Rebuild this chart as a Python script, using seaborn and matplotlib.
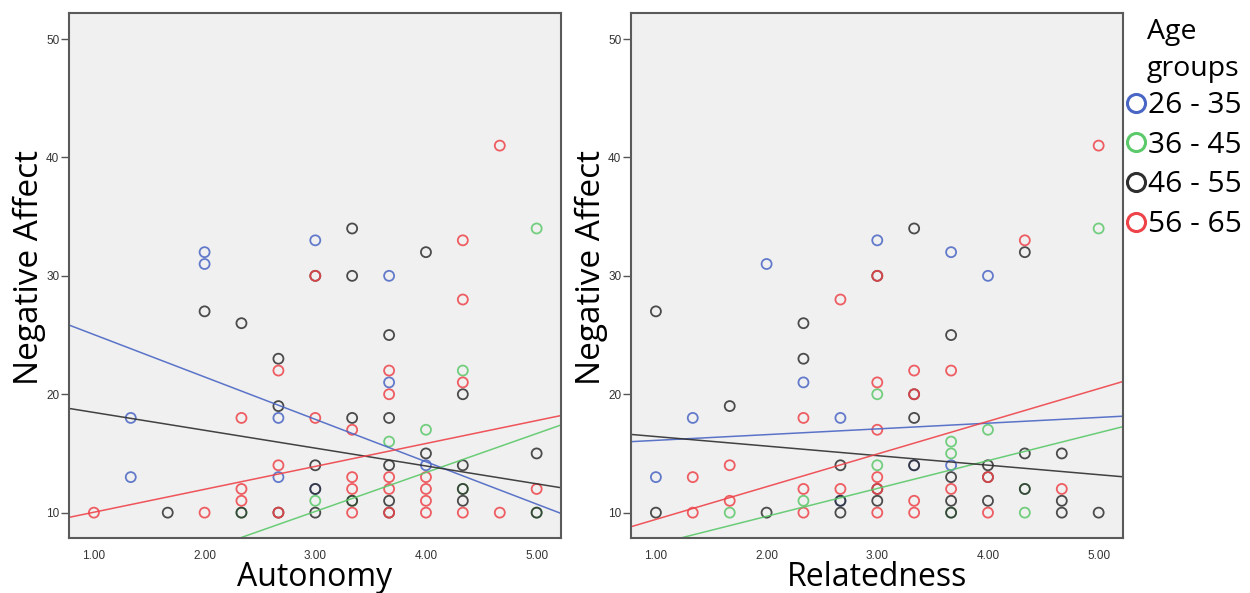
import matplotlib
matplotlib.use("Agg")
import matplotlib.pyplot as plt
from matplotlib.lines import Line2D
import numpy as np
import pandas as pd
import seaborn as sns

groups = ["26 - 35", "36 - 45", "46 - 55", "56 - 65"]
group_colors = ["#4a66c4", "#5cc96a", "#2e2e2e", "#ee4349"]

# Autonomy panel: (score, negative affect) per age group
auto_blue = [(1.333, 18), (1.333, 13), (2, 32), (2, 31), (2.667, 18), (2.667, 13),
             (3, 33), (3, 12), (3.667, 30), (3.667, 21), (4, 14)]
auto_green = [(2.333, 10), (3, 11), (3.333, 11), (3.667, 16), (4, 17), (4.333, 22),
              (4.333, 12), (5, 34), (5, 10)]
auto_black = [(1.667, 10), (2, 27), (2.333, 26), (2.333, 10), (2.667, 23), (2.667, 19),
              (2.667, 10), (3, 30), (3, 14), (3, 12), (3, 10), (3.333, 34), (3.333, 30),
              (3.333, 18), (3.333, 11), (3.667, 25), (3.667, 18), (3.667, 14), (3.667, 11),
              (3.667, 10), (4, 32), (4, 15), (4.333, 20), (4.333, 14), (4.333, 12),
              (4.333, 11), (5, 15), (5, 10)]
auto_red = [(1, 10), (2, 10), (2.333, 18), (2.333, 12), (2.333, 11), (2.667, 22),
            (2.667, 14), (2.667, 10), (3, 30), (3, 18), (3.333, 17), (3.333, 13),
            (3.333, 12), (3.333, 10), (3.667, 22), (3.667, 20), (3.667, 13), (3.667, 12),
            (3.667, 10), (4, 13), (4, 12), (4, 11), (4, 10), (4.333, 33), (4.333, 28),
            (4.333, 21), (4.333, 10), (4.667, 41), (4.667, 10), (5, 12)]

# Relatedness panel
rel_blue = [(1, 13), (1.333, 18), (2, 31), (2.333, 21), (2.667, 18), (2.667, 11),
            (3, 33), (3.333, 14), (3.667, 32), (3.667, 14), (4, 30)]
rel_green = [(1.667, 10), (2.333, 11), (3, 20), (3, 14), (3.667, 16), (3.667, 15),
             (3.667, 10), (4, 17), (4.333, 12), (4.333, 10), (5, 34)]
rel_black = [(1, 27), (1, 10), (1.667, 19), (2, 10), (2.333, 26), (2.333, 23),
             (2.667, 14), (2.667, 11), (2.667, 10), (3, 30), (3, 12), (3, 11),
             (3.333, 34), (3.333, 20), (3.333, 18), (3.333, 14), (3.667, 25), (3.667, 13),
             (3.667, 11), (3.667, 10), (4, 14), (4, 13), (4, 11), (4.333, 32), (4.333, 15),
             (4.333, 12), (4.667, 15), (4.667, 11), (4.667, 10), (5, 10)]
rel_red = [(1.333, 13), (1.333, 10), (1.667, 14), (1.667, 11), (2.333, 18), (2.333, 12),
           (2.333, 10), (2.667, 28), (2.667, 12), (3, 30), (3, 21), (3, 17), (3, 13),
           (3, 12), (3, 10), (3.333, 22), (3.333, 20), (3.333, 11), (3.333, 10),
           (3.667, 22), (3.667, 12), (4, 13), (4, 10), (4.333, 33), (4.667, 12), (5, 41)]

# fit lines (intercept at x=0, slope), one per age group
auto_intercepts = [28.62, 0.23, 19.97, 8.10]
auto_slopes = [-3.58, 3.29, -1.507, 1.935]
rel_intercepts = [15.62, 4.98, 17.23, 6.67]
rel_slopes = [0.484, 2.353, -0.805, 2.76]

x_ticks = [1, 2, 3, 4, 5]
x_ticklabels = ["1.00", "2.00", "3.00", "4.00", "5.00"]
y_ticks = [10, 20, 30, 40, 50]


def to_frame(per_group):
    rows = []
    for g, pts in zip(groups, per_group):
        for x, y in pts:
            rows.append({"x": x, "y": y, "group": g})
    return pd.DataFrame(rows)


auto_df = to_frame([auto_blue, auto_green, auto_black, auto_red])
rel_df = to_frame([rel_blue, rel_green, rel_black, rel_red])

sns.set_theme(style="white")
plt.rcParams["font.family"] = ["Open Sans", "DejaVu Sans"]
plt.rcParams["text.color"] = "black"

fig = plt.figure(figsize=(12.5, 5.93), dpi=100)
ax1 = fig.add_axes([69 / 1250, 1 - 537.5 / 593, 492 / 1250, 524.5 / 593])
ax2 = fig.add_axes([631 / 1250, 1 - 537.5 / 593, 492 / 1250, 524.5 / 593])

palette = dict(zip(groups, group_colors))

panels = [(ax1, auto_df, auto_intercepts, auto_slopes, "Autonomy"),
          (ax2, rel_df, rel_intercepts, rel_slopes, "Relatedness")]

for ax, df, icpts, slopes, xlabel in panels:
    ax.set_facecolor("#f0f0f0")
    sns.scatterplot(data=df, x="x", y="y", hue="group", palette=palette,
                    s=52, linewidth=1.3, legend=False, ax=ax)
    coll = ax.collections[-1]
    fc = coll.get_facecolors()
    fc[:, 3] = 0.85
    coll.set_edgecolors(fc)
    coll.set_facecolors("none")
    for b, m, c in zip(icpts, slopes, group_colors):
        ax.axline((0, b), slope=m, color=c, lw=1.1, alpha=0.9)
    ax.set_xlim(0.775, 5.22)
    ax.set_ylim(7.9, 52.2)
    ax.set_xticks(x_ticks)
    ax.set_xticklabels(x_ticklabels, family="Liberation Sans")
    ax.set_yticks(y_ticks)
    ax.set_yticklabels([str(v) for v in y_ticks], family="Liberation Sans")
    ax.tick_params(axis="x", length=0, pad=9, labelsize=8.5, labelcolor="#333333")
    ax.tick_params(axis="y", left=True, length=6, width=1, color="#555555", pad=1,
                   labelsize=8.5, labelcolor="#333333")
    for sp in ax.spines.values():
        sp.set_color("#5a5a5a")
        sp.set_linewidth(1.5)
    ax.set_xlabel(xlabel, fontsize=23, labelpad=-1, color="black")
    ax.set_ylabel("Negative Affect", fontsize=24, labelpad=0, color="black")
    ax.yaxis.label.set_y(0.515)

fig.text(1147 / 1250, 1 - 18 / 593, "Age\ngroups", fontsize=20.5, va="top", ha="left",
         linespacing=1.45, color="black")
handles = [Line2D([], [], marker="o", linestyle="none", markerfacecolor="none",
                  markeredgecolor=c, markersize=13, markeredgewidth=2.2) for c in group_colors]
fig.legend(handles, groups, loc="upper left", bbox_to_anchor=(1127 / 1250, 1 - 91 / 593),
           frameon=False, fontsize=21.5, handlelength=0.6, handletextpad=0.1,
           labelspacing=0.36, borderpad=0, borderaxespad=0, labelcolor="black")

fig.savefig("out.png", dpi=100)
